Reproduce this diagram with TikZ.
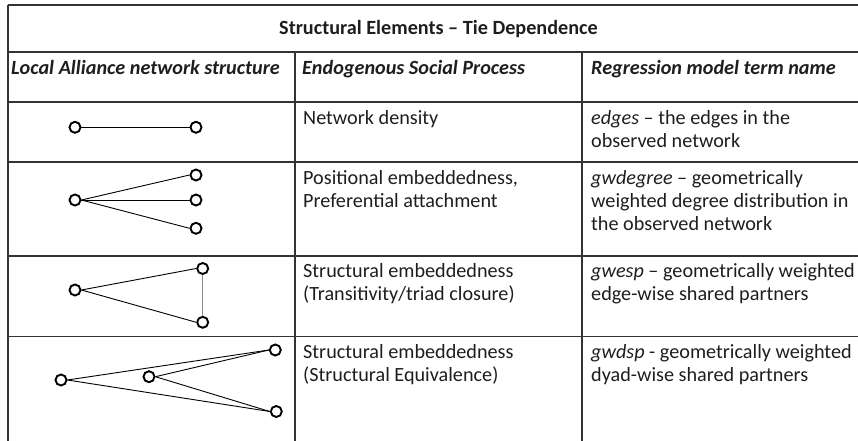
\documentclass[tikz,border=0pt]{standalone}
\usepackage{fontspec}
\setmainfont{Carlito}
\definecolor{tabline}{HTML}{333333}
\definecolor{ink}{HTML}{1E1E1E}
\definecolor{vline}{HTML}{8A8A8A}
\begin{document}
\begin{tikzpicture}[x=1pt,y=-1pt,
  grid/.style={draw=tabline, line width=1.4pt},
  vtx/.style={circle, draw=black, line width=1.9pt, minimum size=11pt, inner sep=0pt},
  tie/.style={draw=black, line width=0.9pt},
  cell/.style={anchor=base west, align=left, inner sep=0pt, text=ink, font=\fontsize{20.2}{23.3}\selectfont},
  head/.style={cell, font=\fontsize{20.2}{23.3}\selectfont\bfseries\itshape},
]
\useasboundingbox (0,0) rectangle (858,441);
% table rules
\draw[grid] (8,5) -- (858,5);
\draw[grid] (8,52) -- (858,52);
\draw[grid] (8,102) -- (858,102);
\draw[grid] (8,162) -- (858,162);
\draw[grid] (8,256) -- (858,256);
\draw[grid] (8,336.5) -- (858,336.5);
\draw[grid] (8,5) -- (8,441);
\draw[grid] (295,52) -- (295,441);
\draw[grid] (582,52) -- (582,441);

% title and headers (anchors at the baseline of the last line)
\node[cell, anchor=base, font=\fontsize{20.2}{23.3}\selectfont\bfseries] (title) at (438.5,34.3) {Structural Elements -- Tie Dependence};
\node[head] (h1) at (11,74.3) {Local Alliance network structure};
\node[head] (h2) at (302,74.3) {Endogenous Social Process};
\node[head] (h3) at (591,74.3) {Regression model term name};

% row 1
\node[cell] (p1) at (303,124.3) {Network density};
\node[cell] (t1) at (591,147.6) {\textit{edges} -- the edges in the\\observed network};
% row 2
\node[cell] (p2) at (303,207.6) {Positional embeddedness,\\Preferential attachment};
\node[cell] (t2) at (591,230.9) {\textit{gwdegree} -- geometrically\\weighted degree distribution in\\the observed network};
% row 3
\node[cell] (p3) at (303,300.8) {Structural embeddedness\\(Transitivity/triad closure)};
\node[cell] (t3) at (591,300.8) {\textit{gwesp} -- geometrically weighted\\edge-wise shared partners};
% row 4
\node[cell] (p4) at (303,381.6) {Structural embeddedness\\(Structural Equivalence)};
\node[cell] (t4) at (591,381.6) {\textit{gwdsp} - geometrically weighted\\dyad-wise shared partners};

% network 1
\node[vtx] (a1) at (75,127.3) {};
\node[vtx] (a2) at (196,127.3) {};
\draw[tie] (a1.east) -- (a2.west);
% network 2
\node[vtx] (b0) at (75,200) {};
\node[vtx] (b1) at (196,175) {};
\node[vtx] (b2) at (196,200) {};
\node[vtx] (b3) at (196,228.3) {};
\draw[tie] (b0.east) -- (b1.west);
\draw[tie] (b0.east) -- (b2.west);
\draw[tie] (b0.east) -- (b3.west);
% network 3
\node[vtx] (c0) at (75,290) {};
\node[vtx] (c1) at (202.7,268.5) {};
\node[vtx] (c2) at (202.7,322.3) {};
\draw[tie] (c0.east) -- (c1.west);
\draw[tie] (c0.east) -- (c2.west);
\draw[tie, draw=vline, line width=1.3pt] (c1.south) -- (c2.north);
% network 4
\node[vtx] (d0) at (61,380) {};
\node[vtx] (d1) at (149,376.7) {};
\node[vtx] (d2) at (275.3,350) {};
\node[vtx] (d3) at (276.3,411.5) {};
\draw[tie] (d0.east) -- (d2.west);
\draw[tie] (d0.east) -- (d3.west);
\draw[tie] (d1.east) -- (d2.west);
\draw[tie] (d1.east) -- (d3.west);
\end{tikzpicture}
\end{document}
